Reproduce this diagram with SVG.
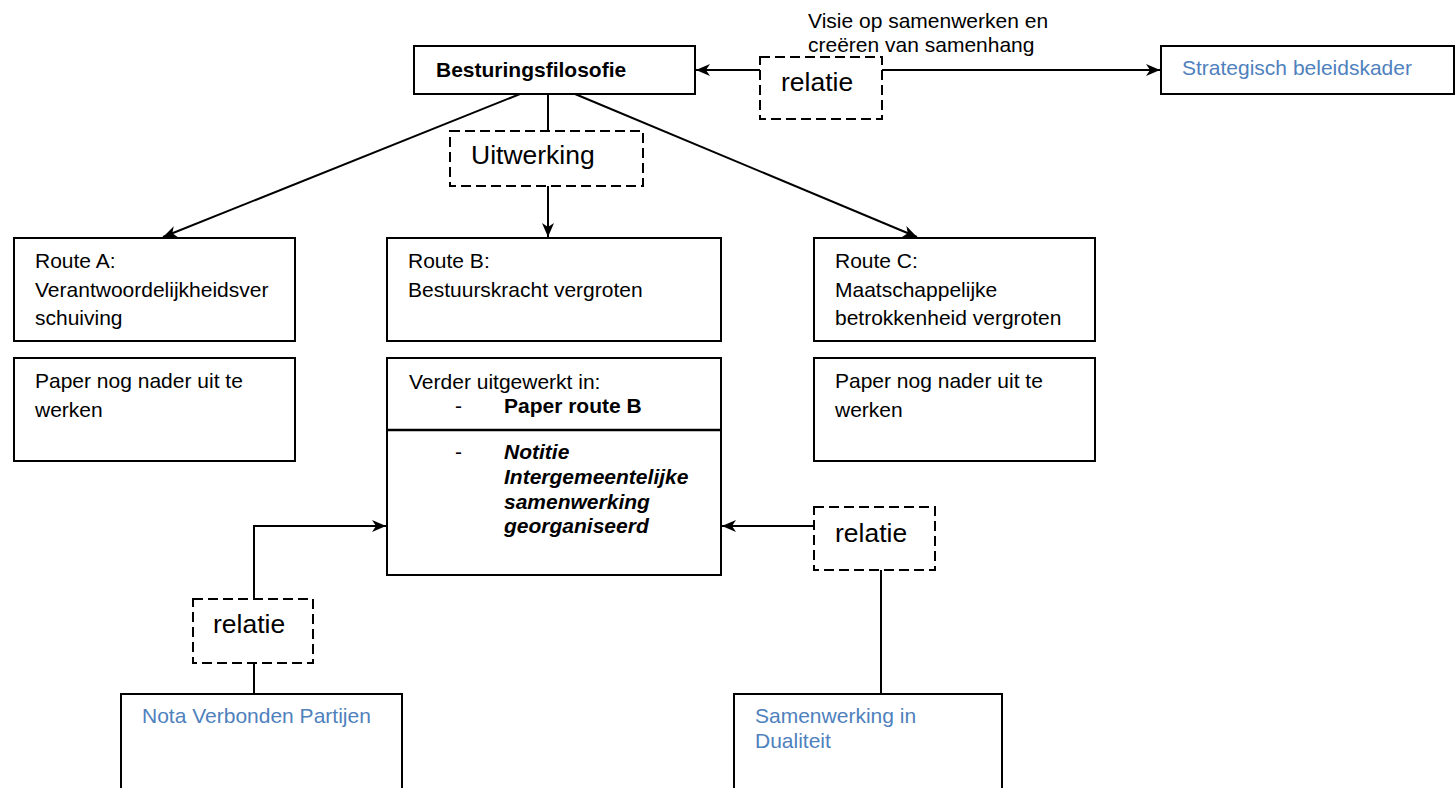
<svg xmlns="http://www.w3.org/2000/svg" width="1455" height="788" viewBox="0 0 1455 788">
<defs>
<marker id="arr" markerWidth="15" markerHeight="12" refX="14" refY="6" orient="auto" markerUnits="userSpaceOnUse">
<path d="M0,0 L14,6 L0,12 L4,6 z" fill="#000"/>
</marker>
<style>
.box{fill:#fff;stroke:#000;stroke-width:2}
.dash{fill:#fff;stroke:#000;stroke-width:2;stroke-dasharray:10 5}
.t{font-family:"Liberation Sans",Arial,sans-serif;font-size:21px;fill:#000}
.big{font-size:26.5px}
.blue{fill:#4f81bd}
.b{font-weight:bold}
.bi{font-weight:bold;font-style:italic}
.c{fill:none;stroke:#000;stroke-width:2}
</style>
</defs>
<rect width="1455" height="788" fill="#fff"/>

<g id="besturingsfilosofie">
<rect class="box" x="414" y="46" width="281" height="48"/>
<text class="t b" x="436" y="77">Besturingsfilosofie</text>
</g>
<g id="relatie-top">
<rect class="dash" x="760" y="57" width="122" height="62"/>
<text class="t big" x="781" y="91">relatie</text>
</g>
<g id="label-visie">
<text class="t" x="808" y="28">Visie op samenwerken en</text>
<text class="t" x="808" y="51.5">creëren van samenhang</text>
</g>
<g id="strategisch">
<rect class="box" x="1161" y="46" width="293" height="48"/>
<text class="t blue" x="1182" y="75">Strategisch beleidskader</text>
</g>
<g id="uitwerking">
<rect class="dash" x="450" y="131" width="193" height="55"/>
<text class="t big" x="471" y="164">Uitwerking</text>
</g>
<g id="route-a">
<rect class="box" x="14" y="238" width="281" height="103"/>
<text class="t" x="35" y="268">Route A:</text>
<text class="t" x="35" y="296.5">Verantwoordelijkheidsver</text>
<text class="t" x="35" y="325">schuiving</text>
</g>
<g id="paper-a">
<rect class="box" x="14" y="358" width="281" height="103"/>
<text class="t" x="35" y="388">Paper nog nader uit te</text>
<text class="t" x="35" y="416.5">werken</text>
</g>
<g id="route-b">
<rect class="box" x="387" y="238" width="334" height="103"/>
<text class="t" x="408" y="268">Route B:</text>
<text class="t" x="408" y="296.5">Bestuurskracht vergroten</text>
</g>
<g id="verder">
<rect class="box" x="387" y="358" width="334" height="217"/>
<line x1="387" y1="430" x2="721" y2="430" stroke="#000" stroke-width="2.5"/>
<text class="t" x="409" y="389">Verder uitgewerkt in:</text>
<text class="t" x="455" y="413">-</text>
<text class="t b" x="504" y="413">Paper route B</text>
<text class="t" x="455" y="459">-</text>
<text class="t bi" x="504" y="459">Notitie</text>
<text class="t bi" x="504" y="484">Intergemeentelijke</text>
<text class="t bi" x="504" y="508.5">samenwerking</text>
<text class="t bi" x="504" y="533">georganiseerd</text>
</g>
<g id="route-c">
<rect class="box" x="814" y="238" width="281" height="103"/>
<text class="t" x="835" y="268">Route C:</text>
<text class="t" x="835" y="296.5">Maatschappelijke</text>
<text class="t" x="835" y="325">betrokkenheid vergroten</text>
</g>
<g id="paper-c">
<rect class="box" x="814" y="358" width="281" height="103"/>
<text class="t" x="835" y="388">Paper nog nader uit te</text>
<text class="t" x="835" y="416.5">werken</text>
</g>
<g id="relatie-left">
<rect class="dash" x="193" y="599" width="120" height="64"/>
<text class="t big" x="213" y="633">relatie</text>
</g>
<g id="nota">
<rect class="box" x="121" y="694" width="281" height="110"/>
<text class="t blue" x="142" y="723">Nota Verbonden Partijen</text>
</g>
<g id="relatie-right">
<rect class="dash" x="814" y="507" width="121" height="63"/>
<text class="t big" x="835" y="542">relatie</text>
</g>
<g id="samenwerking">
<rect class="box" x="734" y="694" width="268" height="110"/>
<text class="t blue" x="755" y="723">Samenwerking in</text>
<text class="t blue" x="755" y="748">Dualiteit</text>
</g>

<g id="connectors">
<line class="c" x1="760" y1="70" x2="696" y2="70" marker-end="url(#arr)"/>
<line class="c" x1="882" y1="70" x2="1160" y2="70" marker-end="url(#arr)"/>
<line class="c" x1="520" y1="94" x2="163" y2="237" marker-end="url(#arr)"/>
<line class="c" x1="575" y1="94" x2="917" y2="237" marker-end="url(#arr)"/>
<line class="c" x1="548" y1="94" x2="548" y2="131"/>
<line class="c" x1="548" y1="186" x2="548" y2="237" marker-end="url(#arr)"/>
<polyline class="c" points="254,599 254,526 386,526" marker-end="url(#arr)"/>
<line class="c" x1="254" y1="663" x2="254" y2="694"/>
<line class="c" x1="814" y1="526" x2="722" y2="526" marker-end="url(#arr)"/>
<line class="c" x1="881" y1="570" x2="881" y2="694"/>
</g>
</svg>
